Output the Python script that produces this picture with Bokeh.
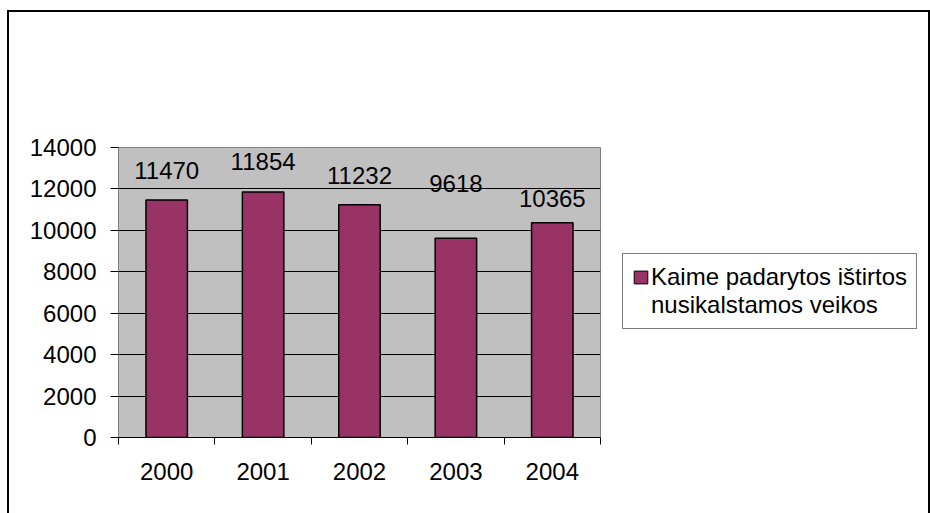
from bokeh.plotting import figure
from bokeh.layouts import row
from bokeh.models import (Range1d, FixedTicker, CustomJSTickFormatter, Legend, LegendItem,
                          ColumnDataSource)
from bokeh.core.properties import value
from bokeh.embed import file_html
from bokeh.resources import INLINE

# ---- data ----
years = ["2000", "2001", "2002", "2003", "2004"]
crimes = [11470, 11854, 11232, 9618, 10365]
legend_lines = ["Kaime padarytos ištirtos", "nusikalstamos veikos"]
y_ticks = [0, 2000, 4000, 6000, 8000, 10000, 12000, 14000]

# ---- styles ----
FONT = "Liberation Sans"
FS = "24px"
BAR = "#993366"
label_lift_px = [29, 30, 29, 55, 24]   # vertical placement of the data labels above bars

xs = [i + 0.5 for i in range(len(years))]
src = ColumnDataSource(dict(x=xs, top=crimes, lab=[str(v) for v in crimes],
                            yoff=[-v for v in label_lift_px]))

H = 501
p = figure(width=612, height=H, output_backend="svg", toolbar_location=None,
           x_range=Range1d(0, len(years)), y_range=Range1d(y_ticks[0], y_ticks[-1]),
           min_border_left=109, min_border_right=21, min_border_top=135, min_border_bottom=76,
           tools="")

p.background_fill_color = "#C0C0C0"
p.border_fill_color = "white"
p.outline_line_color = "#808080"
p.outline_line_width = 1

bars = p.vbar(x="x", top="top", width=0.43, bottom=0, source=src,
              fill_color=BAR, line_color="black", line_width=1.5)

p.text(x="x", y="top", text="lab", source=src, y_offset="yoff",
       text_align="center", text_baseline="middle",
       text_font=value(FONT), text_font_size=FS, text_color="black")

# y axis
ya = p.yaxis[0]
ya.ticker = FixedTicker(ticks=y_ticks, minor_ticks=[])
ya.major_tick_out = 8
ya.major_tick_in = 0
ya.major_tick_line_color = "black"
ya.axis_line_color = "#808080"
ya.major_label_text_font = FONT
ya.major_label_text_font_size = FS
ya.major_label_text_color = "black"
ya.major_label_standoff = 14

# x axis
xa = p.xaxis[0]
xa.ticker = FixedTicker(ticks=xs, minor_ticks=list(range(len(years) + 1)))
xa.formatter = CustomJSTickFormatter(args=dict(labels=years),
                                     code="return labels[Math.round(tick - 0.5)];")
xa.major_tick_out = 0
xa.major_tick_in = 0
xa.minor_tick_out = 7
xa.minor_tick_in = 0
xa.minor_tick_line_color = "black"
xa.axis_line_color = "black"
xa.major_label_text_font = FONT
xa.major_label_text_font_size = FS
xa.major_label_text_color = "black"
xa.major_label_standoff = 18

p.xgrid.visible = False
p.ygrid.ticker = FixedTicker(ticks=y_ticks[1:-1])
p.ygrid.grid_line_color = "black"
p.ygrid.grid_line_width = 1

# ---- legend panel (separate canvas to the right of the chart) ----
q = figure(width=307, height=H, output_backend="svg", toolbar_location=None, tools="",
           min_border=0, x_range=Range1d(0, 1), y_range=Range1d(0, 1))
q.axis.visible = False
q.grid.visible = False
q.outline_line_color = None
q.background_fill_color = "white"
q.border_fill_color = "white"
# swatch renderers used only by the legend (hidden on the canvas)
sw1 = q.vbar(x=[-10], top=[-10], bottom=[-11], width=0.4,
             fill_color=BAR, line_color="black", line_width=1)
sw2 = q.vbar(x=[-10], top=[-10], bottom=[-11], width=0.4, fill_alpha=0, line_alpha=0)
sw1.visible = False
sw2.visible = False

legend = Legend(items=[LegendItem(label=legend_lines[0], renderers=[sw1]),
                       LegendItem(label=legend_lines[1], renderers=[sw2])],
                location=(1, 108), orientation="vertical")
legend.border_line_color = "black"
legend.border_line_width = 1
legend.background_fill_color = "white"
legend.background_fill_alpha = 1
legend.label_text_font = FONT
legend.label_text_font_size = FS
legend.label_text_color = "black"
legend.glyph_width = 17
legend.glyph_height = 16
legend.label_standoff = 2
legend.padding = 9
legend.margin = 0
legend.spacing = 0
q.add_layout(legend)

layout = row(p, q, margin=(10, 0, 0, 7),
             styles={"border-left": "2px solid #000", "border-top": "2px solid #000",
                     "border-right": "2px solid #000"})

open("out.html", "w").write(file_html(layout, INLINE))
